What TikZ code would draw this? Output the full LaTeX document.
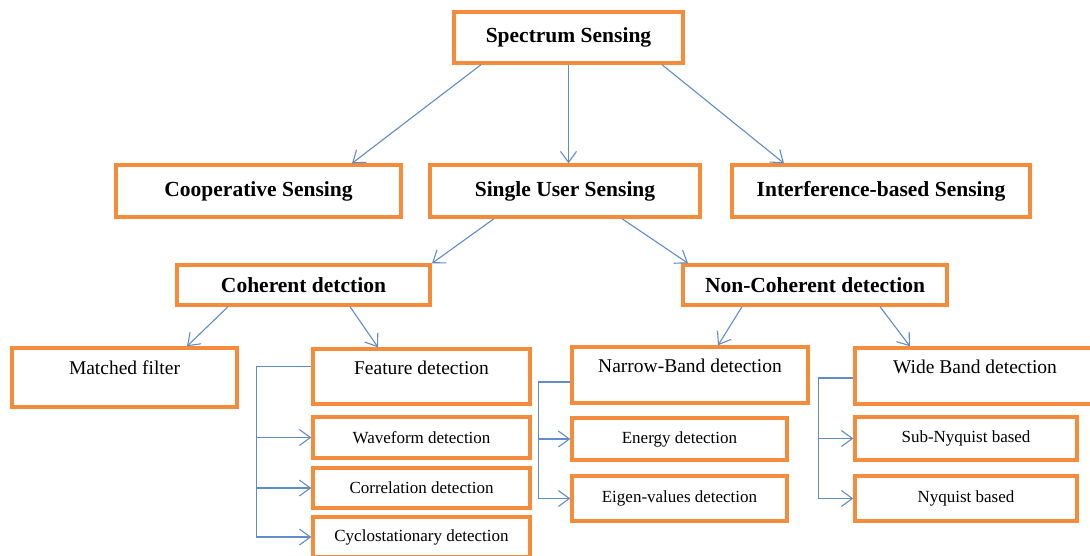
\documentclass[tikz,border=0pt]{standalone}
\usepackage{fontspec}
\setmainfont{Liberation Serif}
\usetikzlibrary{arrows.meta}
\definecolor{boxorange}{RGB}{245,140,60}
\definecolor{lineblue}{RGB}{95,141,203}
\tikzset{
  box/.style={draw=boxorange, line width=3.4pt, fill=white, inner sep=0pt},
  head/.style={box, font=\fontsize{21.5}{24}\selectfont\bfseries},
  leaf/.style={box, font=\fontsize{17}{20}\selectfont},
  tallbox/.style={box, label={[font=\fontsize{19.5}{22}\selectfont, anchor=center, yshift=-21pt]north:#1}},
  link/.style={draw=lineblue, line width=1.1pt},
  arrow/.style={link, -{Straight Barb[length=11pt,width=16pt]}}
}
\begin{document}
\begin{tikzpicture}[x=1pt, y=-1pt]
    \useasboundingbox (0,0) rectangle (1090,555);
    % top levels
    \node[head, minimum width=229pt, minimum height=51pt] (spec) at (568.5,37.5) {Spectrum Sensing};
    \node[head, minimum width=285pt, minimum height=52pt] (coop) at (258.5,191) {Cooperative Sensing};
    \node[head, minimum width=270pt, minimum height=52pt] (single) at (565,191) {Single User Sensing};
    \node[head, minimum width=298pt, minimum height=52pt] (interf) at (881,191) {Interference-based Sensing};
    \node[head, minimum width=253pt, minimum height=40pt] (coh) at (303.5,285) {Coherent detction};
    \node[head, minimum width=264pt, minimum height=40pt] (noncoh) at (815,285) {Non-Coherent detection};
    % detectors
    \node[tallbox=Matched filter, minimum width=225pt, minimum height=59pt] (matched) at (124.5,377.5) {};
    \node[tallbox=Feature detection, minimum width=217pt, minimum height=55pt] (feat) at (421.5,376.5) {};
    \node[leaf, minimum width=217pt, minimum height=41pt] (wave) at (421.5,437.5) {Waveform detection};
    \node[leaf, minimum width=217pt, minimum height=40pt] (corr) at (421.5,488) {Correlation detection};
    \node[leaf, minimum width=217pt, minimum height=40pt] (cyclo) at (421.5,537) {Cyclostationary detection};
    \node[tallbox=Narrow-Band detection, minimum width=236pt, minimum height=56pt] (narrow) at (690,375) {};
    \node[leaf, minimum width=215pt, minimum height=42pt] (energy) at (679.5,439) {Energy detection};
    \node[leaf, minimum width=215pt, minimum height=45pt] (eigen) at (679.5,498.5) {Eigen-values detection};
    \node[tallbox=Wide Band detection, minimum width=240pt, minimum height=56pt] (wide) at (975,376) {};
    \node[leaf, minimum width=222pt, minimum height=43pt] (subnyq) at (966,438.5) {Sub-Nyquist based};
    \node[leaf, minimum width=222pt, minimum height=45pt] (nyq) at (966,498.5) {Nyquist based};
    % tree arrows
    \draw[arrow] ([xshift=-87.5pt]spec.south) -- ([xshift=93.5pt]coop.north);
    \draw[arrow] (spec.south) -- ([xshift=3.5pt]single.north);
    \draw[arrow] ([xshift=93.5pt]spec.south) -- ([xshift=-97pt]interf.north);
    \draw[arrow] ([xshift=-71pt]single.south) -- ([xshift=128.5pt]coh.north);
    \draw[arrow] ([xshift=57pt]single.south) -- ([xshift=-127pt]noncoh.north);
    \draw[arrow] ([xshift=-75.5pt]coh.south) -- ([xshift=62.5pt]matched.north);
    \draw[arrow] ([xshift=46.5pt]coh.south) -- ([xshift=-43.5pt]feat.north);
    \draw[arrow] ([xshift=-73pt]noncoh.south) -- ([xshift=28pt]narrow.north);
    \draw[arrow] ([xshift=65pt]noncoh.south) -- ([xshift=-65pt]wide.north);
    % brackets
    \draw[arrow] ([yshift=10pt]feat.west) -- ++(-55,0) |- (cyclo.west);
    \foreach \n in {wave,corr}
      \draw[arrow] ([xshift=-55pt]\n.west) -- (\n.west);
    \draw[arrow] ([yshift=-7pt]narrow.west) -- ++(-32,0) |- (eigen.west);
    \draw[arrow] ([xshift=-32pt]energy.west) -- (energy.west);
    \draw[arrow] ([yshift=-2pt]wide.west) -- ++(-35,0) |- (nyq.west);
    \draw[arrow] ([xshift=-35pt]subnyq.west) -- (subnyq.west);
  \end{tikzpicture}
\end{document}
